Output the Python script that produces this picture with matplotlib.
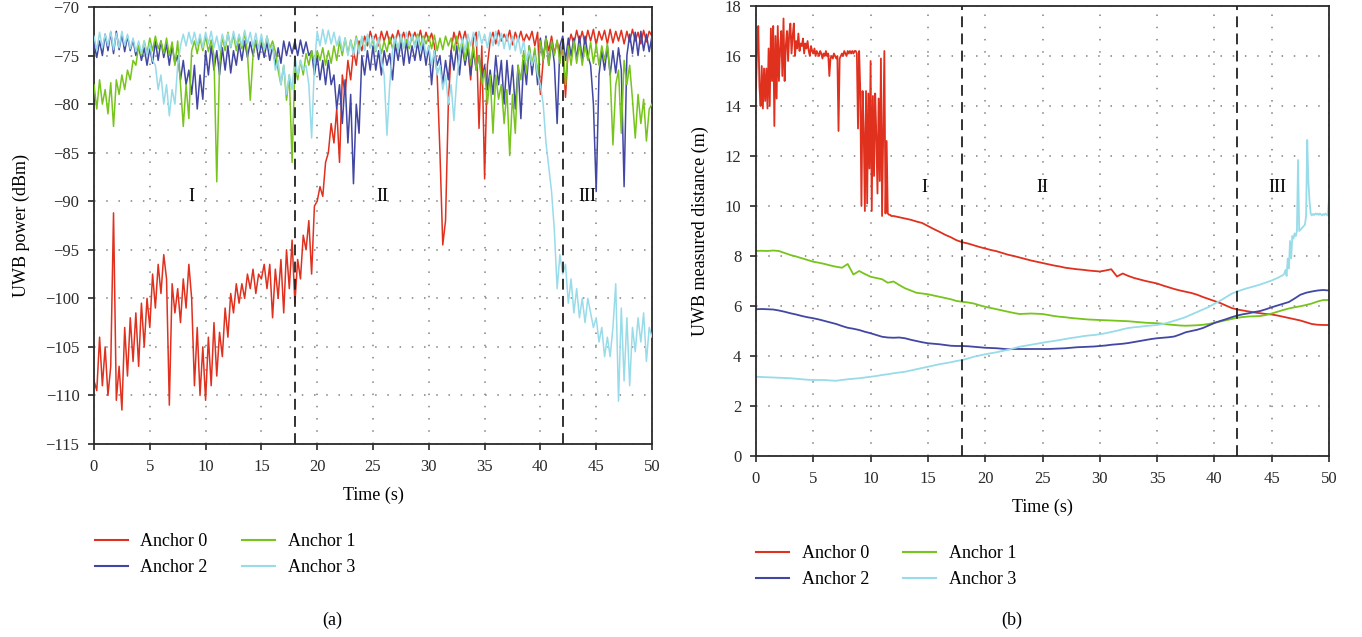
import numpy as np
import matplotlib
matplotlib.use("Agg")
import matplotlib.pyplot as plt
from matplotlib.lines import Line2D

plt.rcParams['font.family'] = ['Liberation Serif', 'DejaVu Serif']
plt.rcParams['axes.unicode_minus'] = True

anchor_labels = ["Anchor 0", "Anchor 1", "Anchor 2", "Anchor 3"]
anchor_colors = ["#e0301e", "#77c41c", "#4147a2", "#98dbe9"]

# ---------------- (a) UWB received power (dBm), one sample every 0.25 s ----------------
power_step = 0.25

power_a0 = [
    -108.5, -109.5, -104.0, -109.0,  -105.0, -110.0, -107.0, -91.2,
    -110.5, -107.0, -111.5, -103.0,  -108.0, -102.0, -106.5, -101.5,
    -107.0, -100.5, -105.0, -100.0,  -103.0, -97.5, -101.0, -96.5,
    -99.5, -95.5, -98.0, -111.0,     -98.5, -101.5, -99.0, -102.5,
    -98.0, -101.0, -96.5, -100.0,    -109.0, -103.0, -110.0, -105.0,
    -110.5, -104.0, -109.0, -102.5,  -108.0, -103.5, -106.0, -101.0,
    -104.0, -99.5, -101.5, -98.5,    -100.5, -98.5, -100.0, -97.5,
    -99.0, -97.0, -99.5, -97.5,      -98.0, -96.5, -99.0, -96.5,
    -102.0, -97.0, -100.0, -96.0,    -101.5, -95.0, -99.0, -94.0,
    -100.5, -96.0, -98.0, -93.5,     -95.0, -92.0, -97.5, -90.5,
    -90.0, -88.5, -89.5, -86.0,      -85.0, -82.0, -84.0, -80.5,
    -86.0, -77.0, -79.0, -75.5,      -77.5, -74.5, -76.0, -73.5,
    -74.5, -73.0, -74.0, -72.5,      -73.5, -72.8, -74.0, -72.5,
    -73.5, -72.5, -73.8, -72.8,      -73.6, -72.4, -73.5, -72.6,
    -73.8, -72.5, -73.4, -72.6,      -73.5, -72.4, -73.8, -72.6,
    -73.5, -72.7, -74.0, -77.0,      -85.0, -94.5, -92.0, -80.0,
    -74.5, -72.6, -73.8, -72.5,      -73.6, -72.5, -74.0, -77.5,
    -73.2, -72.6, -82.5, -74.0,      -87.7, -76.0, -73.5, -72.6,
    -73.8, -72.4, -73.5, -72.8,      -73.5, -72.4, -73.9, -72.6,
    -73.5, -72.5, -73.6, -72.8,      -73.4, -72.5, -74.0, -72.6,
    -79.0, -75.5, -73.2, -74.5,      -73.0, -74.8, -73.5, -75.0,
    -74.0, -79.3, -74.0, -72.8,      -73.8, -72.4, -73.6, -72.5,
    -73.8, -72.4, -73.5, -72.3,      -73.9, -72.5, -73.4, -72.4,
    -73.8, -72.3, -73.7, -72.5,      -73.5, -72.4, -73.8, -72.5,
    -73.6, -72.3, -73.5, -72.6,      -73.8, -72.4, -73.6, -72.5,
    -73.0,
]

power_a1 = [
    -78.0, -80.5, -77.5, -80.0,      -78.5, -81.0, -77.8, -82.3,
    -77.5, -79.0, -77.0, -78.5,      -76.5, -77.5, -75.5, -76.0,
    -74.0, -75.0, -73.5, -74.8,      -73.2, -74.5, -73.0, -74.3,
    -73.5, -74.8, -73.2, -75.0,      -73.6, -76.0, -73.5, -78.0,
    -82.3, -78.0, -81.5, -74.5,      -73.5, -74.8, -73.2, -74.5,
    -73.0, -74.6, -73.4, -75.0,      -88.0, -76.0, -73.0, -74.5,
    -72.6, -74.2, -72.8, -74.5,      -73.0, -74.3, -72.6, -74.8,
    -79.6, -75.0, -73.4, -74.2,      -73.2, -74.5, -73.0, -74.3,
    -73.5, -74.6, -76.5, -78.0,      -76.0, -79.6, -77.0, -86.0,
    -76.0, -77.5, -75.5, -77.0,      -74.8, -76.0, -74.5, -75.8,
    -74.5, -75.5, -74.2, -76.0,      -74.5, -75.8, -74.0, -75.5,
    -73.5, -75.0, -73.2, -74.8,      -73.4, -74.6, -73.0, -74.5,
    -73.2, -74.4, -73.0, -74.2,      -73.4, -74.6, -73.2, -74.8,
    -73.5, -74.6, -73.1, -74.3,      -73.2, -74.5, -73.0, -74.2,
    -73.4, -74.3, -73.0, -74.0,      -72.8, -74.0, -73.0, -73.8,
    -73.0, -74.3, -72.9, -74.5,      -73.2, -74.4, -73.0, -74.0,
    -73.2, -74.5, -73.0, -74.6,      -73.5, -75.5, -73.6, -76.0,
    -74.0, -76.5, -75.0, -78.0,      -76.5, -80.0, -77.0, -83.0,
    -77.0, -79.5, -78.0, -82.0,      -78.5, -85.3, -79.0, -83.0,
    -76.0, -77.5, -74.5, -76.8,      -74.0, -76.0, -74.2, -77.0,
    -73.5, -75.5, -73.2, -76.0,      -73.5, -75.0, -73.4, -75.8,
    -73.5, -78.0, -74.0, -76.0,      -73.5, -75.8, -73.8, -76.0,
    -74.0, -75.5, -73.6, -75.8,      -73.8, -76.0, -74.0, -75.5,
    -73.8, -77.0, -84.2, -78.0,      -76.5, -83.0, -75.5, -78.0,
    -76.0, -79.5, -83.5, -79.0,      -82.0, -79.5, -83.8, -80.5,
    -80.0,
]

power_a2 = [
    -73.8, -75.2, -73.5, -75.0,      -72.8, -74.5, -72.6, -74.8,
    -72.5, -74.4, -72.8, -74.6,      -73.0, -74.5, -73.4, -75.0,
    -74.0, -75.5, -74.2, -76.0,      -74.2, -75.8, -73.5, -75.5,
    -73.5, -75.2, -73.8, -76.0,      -74.0, -75.8, -75.0, -77.5,
    -75.5, -78.0, -76.5, -79.0,      -76.0, -80.5, -77.0, -79.5,
    -74.5, -77.0, -74.0, -76.5,      -74.5, -77.0, -74.2, -76.5,
    -74.0, -76.8, -74.5, -76.0,      -73.8, -75.5, -73.5, -75.2,
    -73.6, -75.0, -73.5, -75.4,      -73.7, -75.2, -73.6, -75.5,
    -74.0, -76.0, -74.2, -75.8,      -73.5, -75.0, -73.6, -74.8,
    -73.5, -75.0, -73.4, -74.8,      -73.6, -75.0, -74.5, -77.0,
    -75.0, -77.5, -75.5, -78.0,      -75.5, -78.0, -77.0, -80.5,
    -78.0, -82.0, -77.5, -84.0,      -79.0, -88.2, -80.0, -83.0,
    -75.0, -77.0, -74.5, -76.5,      -74.0, -76.5, -74.5, -77.0,
    -74.5, -76.0, -74.8, -77.5,      -73.8, -75.5, -73.6, -76.0,
    -73.5, -75.8, -74.0, -75.5,      -73.6, -75.5, -73.8, -76.0,
    -74.0, -78.0, -74.5, -76.0,      -75.0, -78.0, -75.5, -77.5,
    -74.5, -76.5, -74.0, -77.0,      -74.0, -76.0, -74.3, -77.0,
    -74.5, -76.5, -75.0, -77.5,      -76.0, -78.5, -76.5, -79.0,
    -75.0, -78.0, -75.5, -80.0,      -75.5, -79.0, -76.0, -80.5,
    -76.0, -81.5, -75.5, -78.0,      -74.0, -77.0, -74.5, -78.0,
    -73.2, -75.5, -73.0, -76.0,      -73.5, -75.8, -82.0, -74.0,
    -73.0, -75.5, -73.2, -75.0,      -73.2, -75.4, -73.0, -75.5,
    -73.0, -75.0, -76.0, -80.0,      -89.0, -77.0, -74.5, -76.5,
    -74.0, -77.0, -74.5, -76.8,      -74.2, -76.5, -88.5, -75.0,
    -72.8, -74.8, -72.6, -75.0,      -72.5, -74.5, -72.8, -74.6,
    -73.0,
]

power_a3 = [
    -73.0, -74.5, -72.6, -74.2,      -72.8, -74.0, -72.5, -74.4,
    -72.7, -74.2, -72.5, -74.0,      -72.8, -74.3, -73.2, -74.6,
    -73.5, -74.8, -73.5, -75.0,      -73.8, -75.5, -76.0, -78.5,
    -77.0, -80.0, -78.0, -81.2,      -78.5, -80.0, -76.0, -74.0,
    -72.8, -74.0, -72.6, -73.8,      -72.6, -74.0, -72.8, -74.2,
    -72.6, -73.8, -72.5, -74.2,      -73.0, -74.5, -72.8, -74.0,
    -72.7, -74.1, -72.5, -73.9,      -72.8, -74.0, -72.4, -73.8,
    -72.6, -74.1, -72.7, -74.3,      -72.8, -74.4, -73.0, -74.5,
    -74.0, -76.5, -75.5, -78.0,      -76.0, -79.0, -77.0, -78.5,
    -75.0, -77.0, -75.5, -76.5,      -76.0, -78.0, -83.5, -76.0,
    -72.5, -74.0, -72.3, -73.8,      -72.4, -73.8, -72.6, -74.0,
    -73.0, -74.5, -73.2, -75.0,      -73.5, -75.0, -73.2, -74.8,
    -73.0, -74.5, -72.8, -74.2,      -73.0, -74.5, -73.2, -75.5,
    -77.0, -83.2, -78.0, -74.5,      -73.0, -74.5, -72.8, -74.3,
    -72.6, -74.0, -72.8, -74.2,      -73.0, -74.5, -73.2, -75.0,
    -74.0, -76.0, -74.5, -77.0,      -76.0, -78.5, -77.0, -80.0,
    -78.0, -81.7, -77.5, -75.0,      -73.2, -74.5, -72.8, -74.0,
    -72.6, -74.0, -72.5, -73.8,      -72.8, -74.2, -72.6, -74.0,
    -72.5, -74.0, -72.7, -74.3,      -72.8, -74.4, -73.0, -74.5,
    -73.0, -74.8, -73.5, -75.5,      -74.5, -76.0, -75.0, -77.0,
    -78.0, -80.0, -84.0, -86.5,      -89.0, -93.0, -99.0, -95.5,
    -97.5, -96.5, -100.5, -98.0,     -101.5, -99.0, -102.0, -100.0,
    -102.5, -100.0, -101.5, -103.0,  -102.0, -104.5, -103.0, -106.0,
    -104.0, -106.0, -103.0, -98.5,   -110.6, -101.0, -108.5, -102.0,
    -109.0, -103.0, -105.5, -102.0,  -104.5, -101.5, -106.5, -103.0,
    -104.0,
]

# ---------------- (b) UWB measured distance (m) ----------------
# Anchor 0: 0.1 s samples up to 12 s, then 0.5 s samples
dist_a0_fine = [
    14.7, 16.4, 17.2, 14.8, 14.0, 15.6, 13.9, 15.5, 14.2, 15.5,
    13.9, 16.3, 14.0, 17.1, 15.0, 17.2, 13.2, 16.8, 14.3, 17.2,
    15.0, 16.3, 17.0, 15.2, 17.5, 15.0, 16.4, 17.0, 15.8, 16.9,
    17.3, 16.1, 16.8, 17.3, 16.0, 16.6, 16.3, 16.9, 16.2, 16.5,
    16.4, 16.7, 16.1, 16.5, 16.3, 16.6, 16.2, 16.0, 16.4, 16.2,
    16.1, 16.3, 16.0, 16.2, 16.1, 16.0, 16.2, 16.1, 15.9, 16.1,
    16.0, 16.2, 16.0, 16.1, 15.2, 15.9, 16.0, 15.9, 16.1, 16.0,
    15.9, 16.0, 13.0, 15.9, 16.0, 16.1, 16.0, 16.2, 16.1, 16.0,
    16.2, 16.1, 16.2, 16.1, 16.2, 16.1, 16.2, 16.2, 16.1, 13.1,
    16.2, 14.6, 10.0, 14.6, 13.0, 9.8, 14.6, 10.1, 14.5, 11.5,
    15.8, 9.8, 14.4, 11.2, 14.5, 12.8, 10.5, 14.3, 11.0, 15.9,
    9.6, 12.8, 16.2, 9.7, 12.6, 9.7, 9.65, 9.65, 9.6, 9.6,
]
dist_a0_coarse = [
    9.6, 9.55, 9.5, 9.45, 9.38, 9.32, 9.2, 9.08, 8.97, 8.85,
    8.75, 8.63, 8.55, 8.5, 8.43, 8.36, 8.3, 8.24, 8.19, 8.12,
    8.05, 8.0, 7.94, 7.88, 7.82, 7.77, 7.72, 7.67, 7.62, 7.58,
    7.53, 7.5, 7.47, 7.45, 7.42, 7.4, 7.38, 7.42, 7.47, 7.18,
    7.3, 7.2, 7.12, 7.06, 7.0, 6.95, 6.9, 6.82, 6.75, 6.68,
    6.62, 6.57, 6.52, 6.45, 6.36, 6.28, 6.2, 6.12, 6.02, 5.92,
    5.86, 5.82, 5.78, 5.74, 5.71, 5.68, 5.66, 5.62, 5.57, 5.52,
    5.47, 5.42, 5.35, 5.28, 5.25, 5.24, 5.24,
]

# Anchors 1 and 2: 0.5 s samples
dist_step = 0.5
dist_a1 = [
    8.2, 8.21, 8.2, 8.22, 8.2, 8.12, 8.04, 7.98, 7.91, 7.84,
    7.77, 7.73, 7.68, 7.62, 7.57, 7.53, 7.68, 7.26, 7.4, 7.28,
    7.17, 7.12, 7.07, 6.93, 6.98, 6.84, 6.71, 6.62, 6.53, 6.5,
    6.47, 6.42, 6.37, 6.32, 6.27, 6.2, 6.17, 6.14, 6.1, 6.03,
    5.97, 5.92, 5.87, 5.82, 5.77, 5.72, 5.68, 5.69, 5.7, 5.69,
    5.68, 5.64, 5.6, 5.57, 5.55, 5.52, 5.5, 5.48, 5.46, 5.45,
    5.44, 5.43, 5.42, 5.41, 5.4, 5.39, 5.37, 5.35, 5.33, 5.32,
    5.31, 5.29, 5.26, 5.24, 5.22, 5.21, 5.22, 5.23, 5.25, 5.28,
    5.33, 5.38, 5.43, 5.48, 5.53, 5.56, 5.58, 5.59, 5.6, 5.64,
    5.7, 5.77, 5.84, 5.9, 5.95, 5.99, 6.04, 6.1, 6.18, 6.24,
    6.24,
]
dist_a2 = [
    5.87, 5.88, 5.87, 5.86, 5.82, 5.77, 5.71, 5.66, 5.6, 5.55,
    5.51, 5.46, 5.4, 5.34, 5.28, 5.2, 5.13, 5.09, 5.04, 4.97,
    4.91, 4.84, 4.77, 4.74, 4.73, 4.74, 4.71, 4.65, 4.6, 4.55,
    4.51, 4.49, 4.47, 4.44, 4.41, 4.4, 4.4, 4.39, 4.37, 4.35,
    4.33, 4.32, 4.31, 4.29, 4.27, 4.28, 4.28, 4.28, 4.28, 4.28,
    4.28, 4.28, 4.29, 4.3, 4.31, 4.33, 4.35, 4.36, 4.37, 4.38,
    4.4, 4.42, 4.45, 4.47, 4.49, 4.52, 4.56, 4.6, 4.64, 4.68,
    4.71, 4.73, 4.75, 4.78, 4.86, 4.95, 5.0, 5.05, 5.12, 5.22,
    5.32, 5.4, 5.47, 5.55, 5.62, 5.67, 5.71, 5.76, 5.8, 5.87,
    5.95, 6.02, 6.09, 6.16, 6.3, 6.45, 6.53, 6.58, 6.62, 6.64,
    6.62,
]

# Anchor 3: 0.5 s samples up to 45.5 s, then 0.1 s samples
dist_a3_coarse = [
    3.17, 3.16, 3.15, 3.14, 3.13, 3.12, 3.11, 3.09, 3.07, 3.05,
    3.04, 3.04, 3.04, 3.02, 3.01, 3.04, 3.07, 3.09, 3.11, 3.14,
    3.17, 3.2, 3.24, 3.27, 3.31, 3.34, 3.37, 3.42, 3.47, 3.52,
    3.57, 3.62, 3.67, 3.71, 3.75, 3.8, 3.84, 3.9, 3.97, 4.02,
    4.07, 4.11, 4.15, 4.2, 4.25, 4.31, 4.37, 4.41, 4.45, 4.49,
    4.53, 4.57, 4.6, 4.64, 4.68, 4.72, 4.75, 4.79, 4.82, 4.84,
    4.87, 4.91, 4.96, 5.01, 5.07, 5.12, 5.15, 5.17, 5.2, 5.22,
    5.24, 5.28, 5.34, 5.41, 5.48, 5.56, 5.66, 5.76, 5.86, 5.96,
    6.09, 6.21, 6.35, 6.49, 6.58, 6.66, 6.73, 6.79, 6.86, 6.94,
    7.02, 7.12,
]
dist_a3_fine = [
    7.24, 7.3, 7.44, 7.2, 7.9, 7.5, 8.6, 7.9, 8.8, 8.7,
    8.9, 8.8, 9.0, 11.84, 9.0, 9.05, 9.1, 9.15, 9.2, 9.25,
    9.6, 12.64, 11.0, 10.2, 9.7, 9.62, 9.68, 9.64, 9.7, 9.66,
    9.7, 9.64, 9.7, 9.66, 9.62, 9.68, 9.64, 9.7, 9.65, 9.62,
    10.3,
]

phase_bounds = [18, 42]
phase_names = ["I", "II", "III"]

# ---------------- time axes ----------------
t_power = np.arange(len(power_a0)) * power_step
t_a0 = np.concatenate([np.arange(len(dist_a0_fine)) * 0.1,
                       12.0 + np.arange(len(dist_a0_coarse)) * 0.5])
d_a0 = np.array(dist_a0_fine + dist_a0_coarse)
t_a1 = np.arange(len(dist_a1)) * dist_step
t_a2 = np.arange(len(dist_a2)) * dist_step
t_a3 = np.concatenate([np.arange(len(dist_a3_coarse)) * 0.5,
                       46.0 + np.arange(len(dist_a3_fine)) * 0.1])
d_a3 = np.array(dist_a3_coarse + dist_a3_fine)

W, H = 1362, 637
fig = plt.figure(figsize=(W / 100, H / 100), dpi=100)
ax1 = fig.add_axes([94 / W, 1 - 444 / H, (652 - 94) / W, (444 - 7) / H])
ax2 = fig.add_axes([756 / W, 1 - 456 / H, (1329 - 756) / W, (456 - 6) / H])

grid_kw = dict(color="#808080", linestyle=(0, (1, 7)), linewidth=1.1)
TICK_FS = 12
LABEL_FS = 13


def style_axes(ax):
    for side in ["left", "bottom", "top", "right"]:
        ax.spines[side].set_color("#2a2a2a")
        ax.spines[side].set_linewidth(1.3)
    ax.tick_params(direction="out", length=4.5, width=1.2, labelsize=TICK_FS,
                   colors="#2a2a2a", pad=6, top=False, right=False)
    ax.grid(True, **grid_kw)
    ax.set_axisbelow(True)
    for xb in phase_bounds:
        ax.axvline(xb, color="#222222", linestyle=(0, (6, 3.5)), linewidth=1.3,
                   zorder=5)


# (a) power
ax1.plot(t_power, power_a0, color=anchor_colors[0], lw=1.1, zorder=2)
ax1.plot(t_power, power_a2, color=anchor_colors[2], lw=1.1, zorder=3)
ax1.plot(t_power, power_a1, color=anchor_colors[1], lw=1.1, zorder=3.5)
ax1.plot(t_power, power_a3, color=anchor_colors[3], lw=1.1, zorder=4)
ax1.set_xlim(0, 50)
ax1.set_ylim(-115, -70)
ax1.set_xticks(np.arange(0, 51, 5))
ax1.set_yticks(np.arange(-115, -69, 5))
style_axes(ax1)
ax1.set_xlabel("Time (s)", fontsize=LABEL_FS, labelpad=9)
ax1.set_ylabel("UWB power (dBm)", fontsize=LABEL_FS, labelpad=11)
for name, xp in zip(phase_names, [8.7, 25.8, 44.2]):
    ax1.text(xp, -89.5, name, fontsize=13, ha="center", va="center")

# (b) distance
ax2.plot(t_a0, d_a0, color=anchor_colors[0], lw=1.3, zorder=2)
ax2.plot(t_a1, dist_a1, color=anchor_colors[1], lw=1.3, zorder=2)
ax2.plot(t_a2, dist_a2, color=anchor_colors[2], lw=1.3, zorder=2)
ax2.plot(t_a3, d_a3, color=anchor_colors[3], lw=1.3, zorder=2)
ax2.set_xlim(0, 50)
ax2.set_ylim(0, 18)
ax2.set_xticks(np.arange(0, 51, 5))
ax2.set_yticks(np.arange(0, 19, 2))
style_axes(ax2)
ax2.set_xlabel("Time (s)", fontsize=LABEL_FS, labelpad=9)
ax2.set_ylabel("UWB measured distance (m)", fontsize=LABEL_FS, labelpad=11)
for name, xp in zip(phase_names, [14.66, 25.0, 45.5]):
    ax2.text(xp, 10.75, name, fontsize=13, ha="center", va="center")

# legends (two columns, row order Anchor 0/1 then Anchor 2/3)
handles = [Line2D([], [], color=c, lw=1.5) for c in anchor_colors]
order = [0, 2, 1, 3]
leg_kw = dict(ncol=2, frameon=False, fontsize=LABEL_FS, handlelength=1.8,
              handletextpad=0.72, columnspacing=1.9, labelspacing=0.5,
              borderaxespad=0, borderpad=0, loc="upper left")
fig.legend([handles[i] for i in order], [anchor_labels[i] for i in order],
           bbox_to_anchor=(95 / W, 1 - 533 / H), **leg_kw)
fig.legend([handles[i] for i in order], [anchor_labels[i] for i in order],
           bbox_to_anchor=(756 / W, 1 - 545 / H), **leg_kw)

fig.text(332 / W, 1 - 620 / H, "(a)", fontsize=LABEL_FS, ha="center", va="center")
fig.text(1012 / W, 1 - 620 / H, "(b)", fontsize=LABEL_FS, ha="center", va="center")

fig.savefig("out.png", dpi=100)
